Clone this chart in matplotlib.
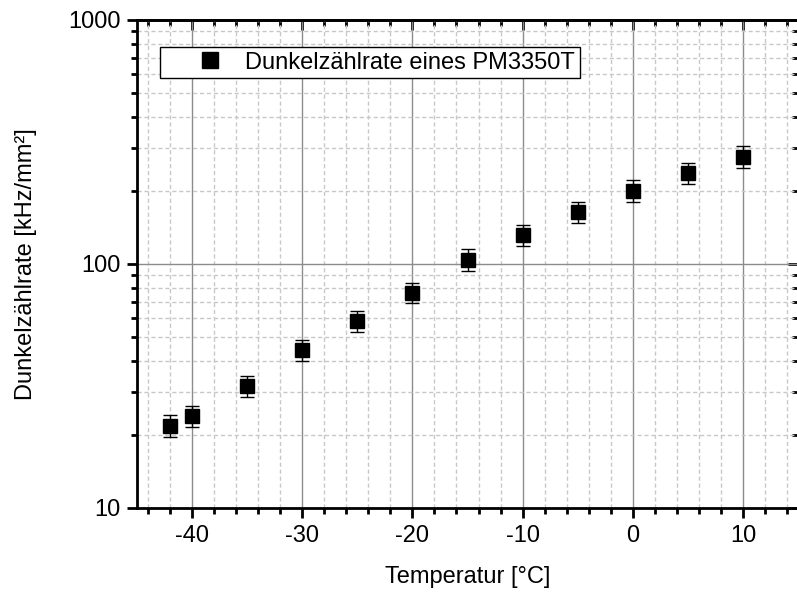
import numpy as np
import matplotlib
matplotlib.use('Agg')
import matplotlib.pyplot as plt
import matplotlib.ticker as ticker
from matplotlib.lines import Line2D

plt.rcParams['font.family'] = ['Liberation Sans', 'DejaVu Sans']
plt.rcParams['axes.unicode_minus'] = False

# data
temp = [-42, -40, -35, -30, -25, -20, -15, -10, -5, 0, 5, 10]
rate = [21.7, 23.8, 31.7, 44.4, 58.6, 76.2, 104, 131.5, 164, 199.5, 236, 275]
err_hi = [24.0, 26.2, 34.8, 48.9, 64.4, 83.7, 114.7, 144.5, 180, 221, 259, 305]
err_lo = [19.6, 21.4, 28.6, 39.9, 52.8, 69.0, 93.9, 118.9, 147.6, 180, 212, 248]
series_name = 'Dunkelzählrate eines PM3350T'

rate = np.array(rate)
yerr = [rate - np.array(err_lo), np.array(err_hi) - rate]

fig = plt.figure(figsize=(7.97, 5.92), dpi=100)
ax = fig.add_axes([137 / 797, 84 / 592, 661 / 797, 488 / 592])

ax.errorbar(temp, rate, yerr=yerr, fmt='s', color='black', ms=10,
            ecolor='black', elinewidth=1, capsize=5, capthick=1, zorder=3)

ax.set_yscale('log')
ax.set_xlim(-45, 15)
ax.set_ylim(10, 1000)

ax.xaxis.set_major_locator(ticker.MultipleLocator(10))
ax.xaxis.set_minor_locator(ticker.MultipleLocator(2))
ax.yaxis.set_major_locator(ticker.LogLocator(base=10))
ax.yaxis.set_minor_locator(ticker.LogLocator(base=10, subs=np.arange(2, 10)))
ax.yaxis.set_major_formatter(ticker.FuncFormatter(lambda v, p: f'{v:g}'))
ax.yaxis.set_minor_formatter(ticker.NullFormatter())

ax.grid(which='major', color='#8c8c8c', linestyle='-', linewidth=1)
ax.grid(which='minor', color='#c8c8c8', linestyle=(0, (3, 2)), linewidth=1)
ax.set_axisbelow(True)

for s in ax.spines.values():
    s.set_linewidth(2)

ax.tick_params(which='major', direction='out', length=7, width=2,
               labelsize=17, pad=5)
ax.tick_params(which='minor', direction='out', length=4, width=2)

# mirrored ticks on top and right pointing inward
top = ax.secondary_xaxis('top')
top.xaxis.set_major_locator(ticker.MultipleLocator(10))
top.xaxis.set_minor_locator(ticker.MultipleLocator(2))
top.tick_params(which='major', direction='in', length=7, width=2, labeltop=False)
top.tick_params(which='minor', direction='in', length=4, width=2)
top.spines['top'].set_linewidth(2)

right = ax.secondary_yaxis('right')
right.yaxis.set_major_locator(ticker.LogLocator(base=10))
right.yaxis.set_minor_locator(ticker.LogLocator(base=10, subs=np.arange(2, 10)))
right.tick_params(which='major', direction='in', length=7, width=2, labelright=False)
right.tick_params(which='minor', direction='in', length=4, width=2, labelright=False)
right.spines['right'].set_linewidth(2)

ax.set_xlabel('Temperatur [°C]', fontsize=17, labelpad=14)
ax.set_ylabel('Dunkelzählrate [kHz/mm²]', fontsize=17, labelpad=22)

handle = Line2D([], [], marker='s', color='black', linestyle='none', ms=11)
leg = ax.legend([handle], [series_name], loc='upper left',
                bbox_to_anchor=(0.035, 0.945), fontsize=17,
                frameon=True, fancybox=False, edgecolor='black', framealpha=1,
                handletextpad=-0.4, borderpad=0.2, handlelength=3.8,
                borderaxespad=0, numpoints=1)
leg.get_frame().set_linewidth(1)

plt.savefig('out.png', dpi=100)
